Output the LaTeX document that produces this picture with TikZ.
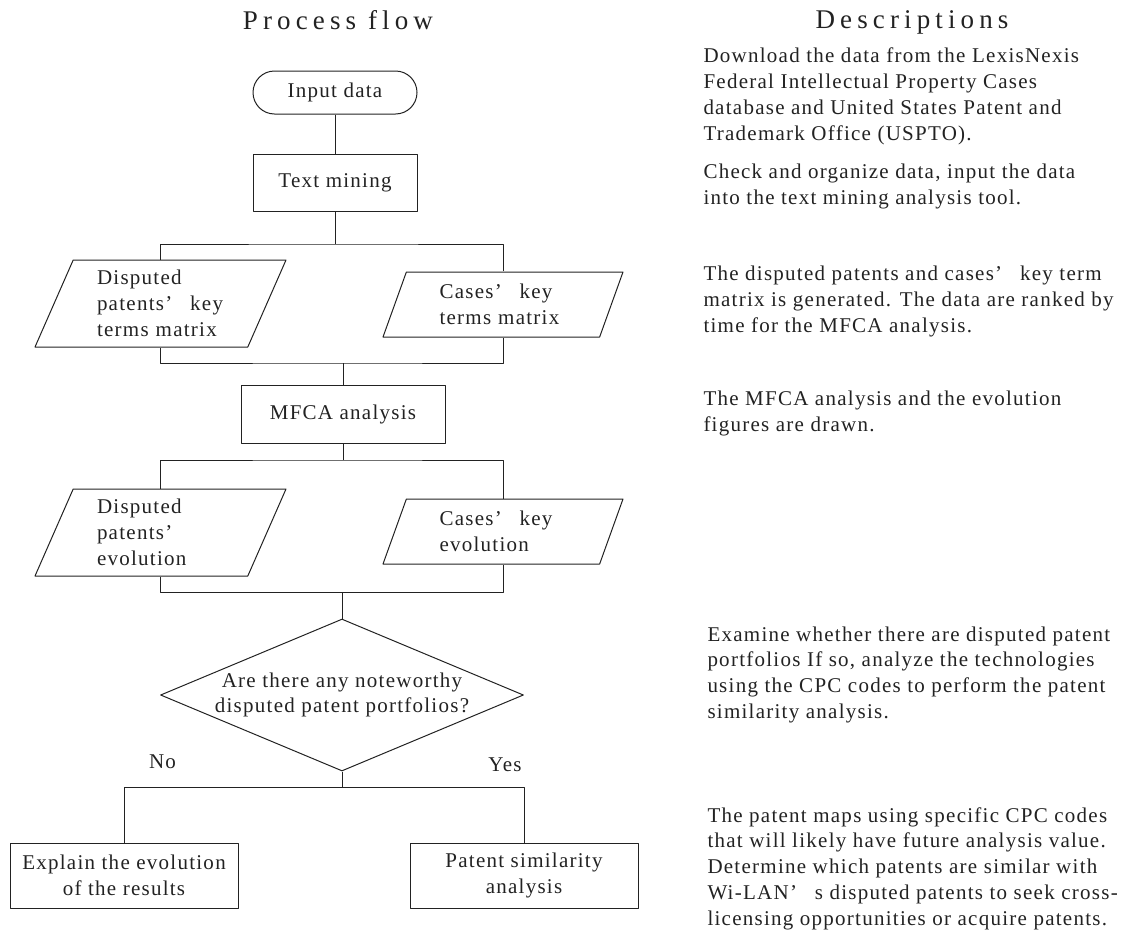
\documentclass[tikz,border=0pt]{standalone}
\usepackage{fontspec}
\setmainfont{Liberation Serif}[LetterSpace=6]
\usetikzlibrary{shapes.geometric,shapes.misc}
\definecolor{ink}{HTML}{222222}
\newcommand{\wideap}{’\nobreak\hspace{0.85em}}

\begin{document}
\begin{tikzpicture}[x=1pt,y=-1pt, line join=round, line width=1pt, color=ink,
	font=\fontsize{21}{25.7}\selectfont,
	box/.style={draw, rectangle, align=center, inner sep=0pt},
	para/.style={draw, trapezium, trapezium left angle=60, trapezium right angle=120,
		trapezium stretches body, text width=127pt, align=left, inner xsep=12pt, inner ysep=0pt},
	desc/.style={anchor=base west, align=left, inner sep=0pt},
	head/.style={anchor=base, inner sep=0pt, font=\fontsize{27}{30}\selectfont\addfontfeature{LetterSpace=19}}]
	\useasboundingbox (0,0) rectangle (1137,932);
	% headings
	\node[head] (pf) at (338,29) {Process flow};
	\node[head] (dt) at (912,28) {Descriptions};
	% flow
	\node[box, rounded rectangle, minimum width=164pt, minimum height=43pt] (in) at (335,92.5) {Input data};
	\node[box, minimum width=164pt, minimum height=57pt] (tm) at (335,182.5) {Text mining};
	\node[para, minimum width=251pt, minimum height=87pt] (dk) at (160.5,303.5) {Disputed\\patents\wideap key\\terms~matrix};
	\node[para, minimum width=240pt, minimum height=65pt] (ck) at (503,304.5) {Cases\wideap key\\terms~matrix};
	\node[box, minimum width=204pt, minimum height=58pt] (mf) at (343,414) {MFCA analysis};
	\node[para, minimum width=251pt, minimum height=87pt] (de) at (160.5,532.5) {Disputed\\patents’\\evolution};
	\node[para, minimum width=240pt, minimum height=65pt] (ce) at (503,531.5) {Cases\wideap key\\evolution};
	\node[draw, diamond, aspect=2.39, inner xsep=0pt, inner ysep=-4pt, minimum width=363pt, minimum height=152pt, align=center] (q) at (342,695) {Are there any noteworthy\\disputed patent portfolios?};
	\node[anchor=base, inner sep=0pt] (no) at (162.5,768) {No};
	\node[anchor=base, inner sep=0pt] (yes) at (505,771) {Yes};
	\node[box, minimum width=228pt, minimum height=65pt] (ex) at (124,875.5) {Explain the evolution\\of the results};
	\node[box, minimum width=228pt, minimum height=65pt] (ps) at (524,875.5) {Patent similarity\\analysis};
	% branch points
	\coordinate (s1) at (335,244);
	\coordinate (j1) at (343,363);
	\coordinate (s2) at (343,460);
	\coordinate (j2) at (342,592);
	\coordinate (s3) at (342,787);
	\draw (in) -- (tm);
	\draw (tm.south) -- (s1);
	\draw (dk.center |- dk.north) |- (s1) -| (ck.center |- ck.north);
	\draw (dk.center |- dk.south) |- (j1) -| (ck.center |- ck.south);
	\draw (j1) -- (mf.north);
	\draw (mf.south) -- (s2);
	\draw (de.center |- de.north) |- (s2) -| (ce.center |- ce.north);
	\draw (de.center |- de.south) |- (j2) -| (ce.center |- ce.south);
	\draw (j2) -- (q.north);
	\draw (q.south) -- (s3);
	\draw (ex.north) |- (s3) -| (ps.north);
	% descriptions (placed at the baseline of their last line)
	\node[desc] (d1) at (703,140) {Download the data from the LexisNexis\\Federal Intellectual Property Cases\\database and United States Patent and\\Trademark Office (USPTO).};
	\node[desc] (d2) at (703,204) {Check and organize data, input the data\\into the text mining analysis tool.};
	\node[desc] (d3) at (703,332) {The disputed patents and cases\wideap key term\\matrix is generated. The data are ranked by\\time for the MFCA analysis.};
	\node[desc] (d4) at (703,431.5) {The MFCA analysis and the evolution\\figures are drawn.};
	\node[desc] (d5) at (707,718.3) {Examine whether there are disputed patent\\portfolios If so, analyze the technologies\\using the CPC codes to perform the patent\\similarity analysis.};
	\node[desc] (d6) at (707,925) {The patent maps using specific CPC codes\\that will likely have future analysis value.\\Determine which patents are similar with\\Wi-LAN\wideap s disputed patents to seek cross-\\licensing opportunities or acquire patents.};
\end{tikzpicture}
\end{document}
